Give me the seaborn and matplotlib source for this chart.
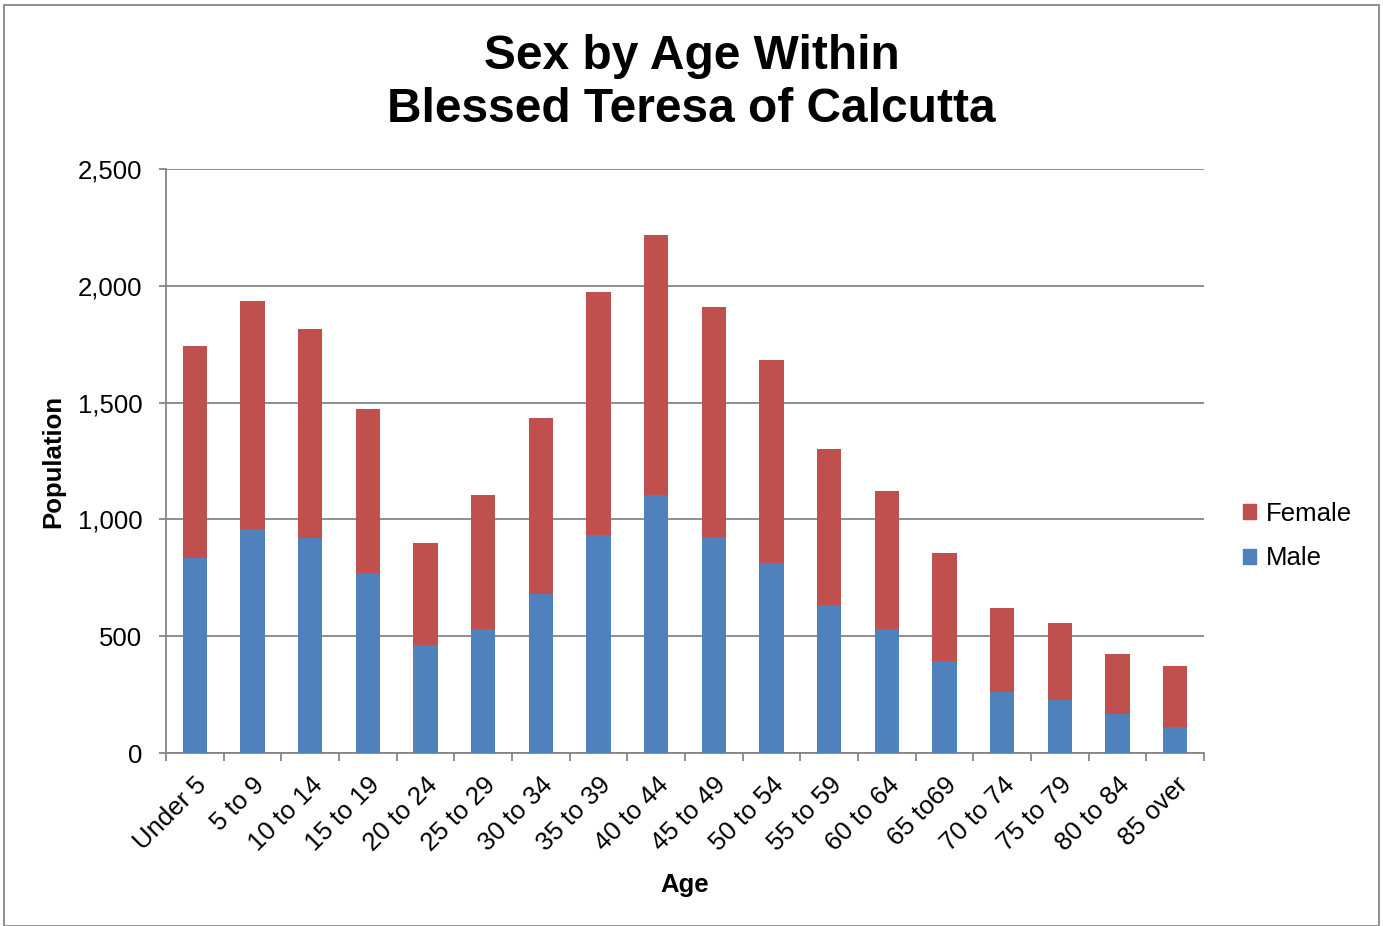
import numpy as np
import pandas as pd
import matplotlib
matplotlib.use('Agg')
import matplotlib.pyplot as plt
import seaborn as sns
from matplotlib.patches import Patch, Rectangle

ages = ['Under 5', '5 to 9', '10 to 14', '15 to 19', '20 to 24', '25 to 29',
        '30 to 34', '35 to 39', '40 to 44', '45 to 49', '50 to 54', '55 to 59',
        '60 to 64', '65 to69', '70 to 74', '75 to 79', '80 to 84', '85 over']
male = [835, 959, 920, 770, 462, 531, 680, 933, 1104, 924, 813, 633,
        531, 394, 261, 227, 167, 111]
female = [907, 976, 895, 702, 437, 573, 754, 1040, 1113, 985, 869, 668,
          590, 462, 360, 329, 257, 261]

df = pd.DataFrame({'Age': ages, 'Male': male, 'Female': female})
df['Total'] = df['Male'] + df['Female']

sns.set_style('white')
plt.rcParams['font.family'] = ['Liberation Sans', 'DejaVu Sans']
plt.rcParams['text.color'] = 'black'
plt.rcParams['axes.labelcolor'] = 'black'
plt.rcParams['xtick.color'] = 'black'
plt.rcParams['ytick.color'] = 'black'

male_c = '#4F81BD'
female_c = '#C0504D'
grid_c = '#868686'

fig = plt.figure(figsize=(13.83, 9.26), dpi=100)
ax = fig.add_axes([0.120, 0.1868, 0.7506, 0.6307])

sns.barplot(data=df, x='Age', y='Total', color=female_c, width=0.42,
            saturation=1, ax=ax, zorder=3)
sns.barplot(data=df, x='Age', y='Male', color=male_c, width=0.42,
            saturation=1, ax=ax, zorder=3)
for p in ax.patches:
    p.set_edgecolor('none')

ax.set_ylim(0, 2500)
ax.set_xlim(-0.5, len(ages) - 0.5)
ax.set_yticks(range(0, 2501, 500))
ax.set_yticklabels([f'{v:,}' for v in range(0, 2501, 500)], fontsize=18.5)
ax.yaxis.grid(True, color=grid_c, linewidth=1.3, zorder=0)
ax.set_axisbelow(True)

ax.set_xticks(range(len(ages)))
ax.set_xticklabels(ages, rotation=45, ha='right', rotation_mode='anchor',
                   fontsize=18.5)
ax.tick_params(axis='x', length=0, pad=14)
ax.set_xticks(np.arange(-0.5, len(ages), 1), minor=True)
ax.tick_params(axis='x', which='minor', length=6, color=grid_c, width=1.3)
ax.tick_params(axis='y', length=5, color=grid_c, width=1.3, pad=12)
ax.yaxis.set_ticks_position('left')
ax.xaxis.set_ticks_position('bottom')

for s in ['top', 'right']:
    ax.spines[s].set_visible(False)
for s in ['left', 'bottom']:
    ax.spines[s].set_color(grid_c)
    ax.spines[s].set_linewidth(1.3)

ax.set_xlabel('Age', fontsize=18.5, fontweight='bold', labelpad=13)
ax.set_ylabel('Population', fontsize=18.5, fontweight='bold', labelpad=9)

fig.text(0.5, 0.910, 'Sex by Age Within\nBlessed Teresa of Calcutta',
         fontsize=34.5, fontweight='bold', ha='center', va='center',
         linespacing=1.22)

handles = [Patch(color=female_c, label='Female'), Patch(color=male_c, label='Male')]
fig.legend(handles=handles, loc='center left', bbox_to_anchor=(0.882, 0.421),
           frameon=False, fontsize=18.5, handlelength=0.5, handleheight=0.5,
           handletextpad=0.4, labelspacing=0.8)

fig.patches.append(Rectangle((0.003, 0.0), 0.994, 0.995, transform=fig.transFigure,
                             fill=False, edgecolor=grid_c, linewidth=1.3))

fig.savefig('out.png', dpi=100)
